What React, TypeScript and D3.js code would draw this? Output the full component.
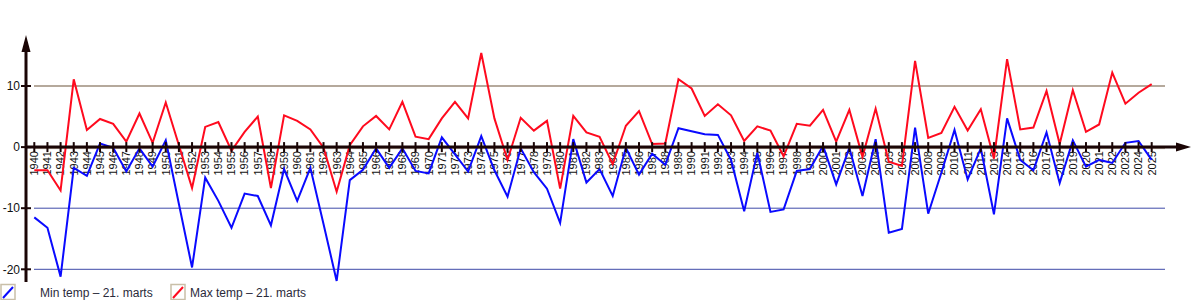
import React from "react";
import * as d3 from "d3";

const years: number[] = d3.range(1940, 2026);

const minTemp: number[] = [
  -11.5, -13.2, -21.2, -3.4, -4.7, 0.6, -0.1, -4.0, -0.2, -3.2,
  1.1, -9.3, -19.7, -5.0, -8.8, -13.2, -7.6, -8.0, -12.8, -3.6,
  -8.8, -3.4, -12.6, -21.9, -5.4, -3.7, -0.2, -3.4, -0.2, -3.9,
  -4.3, 1.6, -1.2, -4.0, 1.8, -3.8, -8.1, -0.2, -4.1, -6.8,
  -12.4, 1.3, -5.8, -3.6, -8.0, -0.1, -4.5, -1.1, -2.9, 3.1,
  2.6, 2.1, 2.0, -2.1, -10.5, -0.9, -10.6, -10.2, -3.9, -3.6,
  0.2, -6.1, -0.1, -8.0, 1.3, -14.0, -13.4, 3.2, -10.9, -4.2,
  2.8, -5.3, -0.2, -11.0, 4.7, -2.1, -3.8, 2.4, -5.9, 1.1,
  -3.2, -2.1, -2.6, 0.7, 1.0, -2.1,
];

const maxTemp: number[] = [
  -3.8, -3.8, -7.1, 11.1, 2.8, 4.6, 3.8, 0.9, 5.5, 0.7,
  7.3, 0.3, -6.7, 3.3, 4.1, -0.6, 2.5, 5.0, -6.7, 5.2,
  4.3, 2.9, -0.1, -7.3, 0.3, 3.4, 5.1, 2.9, 7.4, 1.7,
  1.3, 4.7, 7.4, 4.7, 15.4, 4.7, -2.1, 4.8, 2.7, 4.3,
  -6.8, 5.1, 2.4, 1.7, -2.8, 3.5, 5.9, 0.5, 0.6, 11.1,
  9.6, 5.1, 7.0, 5.2, 1.0, 3.4, 2.7, -1.5, 3.8, 3.5,
  6.1, 0.9, 6.1, -1.6, 6.3, -2.4, -3.1, 14.1, 1.5, 2.3,
  6.6, 2.7, 6.2, -1.9, 14.4, 2.9, 3.2, 9.2, 0.5, 9.3,
  2.5, 3.7, 12.2, 7.1, 8.9, 10.3,
];

const yTicks: number[] = [10, 0, -10, -20];
const seriesNames: string[] = ["Min temp – 21. marts", "Max temp – 21. marts"];
const seriesColors: string[] = ["#0a0aff", "#ff0a1e"];

export default function App() {
  const W = 1200;
  const H = 300;
  const x = d3.scaleLinear().domain([1940, 2025]).range([34.3, 1151.7]);
  const y = d3.scaleLinear().domain([-20, 10]).range([269.3, 86]);
  const axisX = 26;
  const y0 = y(0);
  const gridLeft = 34;
  const gridRight = 1165;

  const line = d3
    .line<number>()
    .x((_, i) => x(years[i]))
    .y((d) => y(d));

  const font = "Arial, 'Liberation Sans', sans-serif";

  return (
    <svg
      width={W}
      height={H}
      style={{ position: "absolute", left: 0, top: 0, background: "#fff" }}
      fontFamily={font}
    >
      {/* gridlines */}
      {yTicks
        .filter((t) => t !== 0)
        .map((t) => (
          <line
            key={"g" + t}
            x1={gridLeft}
            x2={gridRight}
            y1={y(t)}
            y2={y(t)}
            stroke={t > 0 ? "#b5a99c" : "#3f4aa8"}
            strokeWidth={t > 0 ? 2 : 1}
          />
        ))}
      <line x1={gridLeft} x2={gridRight} y1={y0 + 1.5} y2={y0 + 1.5} stroke="#b5a99c" strokeWidth={1} />

      {/* x labels */}
      {years.map((yr) => (
        <text
          key={"xl" + yr}
          transform={`translate(${x(yr)},${y0 + 4}) rotate(-90)`}
          textAnchor="end"
          dy="0.35em"
          fontSize={11}
          fill="#111"
        >
          {yr}
        </text>
      ))}

      {/* series */}
      <path d={line(minTemp) || ""} fill="none" stroke={seriesColors[0]} strokeWidth={2} strokeLinejoin="miter" />
      <path d={line(maxTemp) || ""} fill="none" stroke={seriesColors[1]} strokeWidth={2} strokeLinejoin="miter" />

      {/* x axis */}
      <line x1={axisX} x2={1178} y1={y0} y2={y0} stroke="#1a0505" strokeWidth={3} />
      <path d={`M1176,${y0 - 4.5} L1191,${y0} L1176,${y0 + 4.5} Z`} fill="#1a0505" />
      {years.map((yr) => (
        <line
          key={"xt" + yr}
          x1={x(yr)}
          x2={x(yr)}
          y1={y0 - 5}
          y2={y0 + 5}
          stroke="#1a0505"
          strokeWidth={2}
        />
      ))}

      {/* y axis */}
      <line x1={axisX} x2={axisX} y1={50} y2={282} stroke="#1a0505" strokeWidth={3} />
      <path d={`M${axisX - 4.5},52 L${axisX},35 L${axisX + 4.5},52 Z`} fill="#1a0505" />
      {yTicks.map((t) => (
        <g key={"yt" + t}>
          <line x1={21} x2={31} y1={y(t)} y2={y(t)} stroke="#1a0505" strokeWidth={2} />
          <text x={20} y={y(t)} dy="0.35em" textAnchor="end" fontSize={12} fill="#111">
            {t}
          </text>
        </g>
      ))}

      {/* legend */}
      {seriesNames.map((name, i) => {
        const bx = i === 0 ? 1 : 171;
        const tx = i === 0 ? 40 : 190;
        return (
          <g key={"lg" + i}>
            <rect x={bx} y={284.5} width={14} height={15} fill="#fff" stroke="#c9bfa8" strokeWidth={1.5} />
            <line x1={bx + 2} y1={298} x2={bx + 12} y2={287} stroke={seriesColors[i]} strokeWidth={2} />
            <text x={tx} y={297} fontSize={12} fill="#2a2a3a">
              {name}
            </text>
          </g>
        );
      })}
    </svg>
  );
}
